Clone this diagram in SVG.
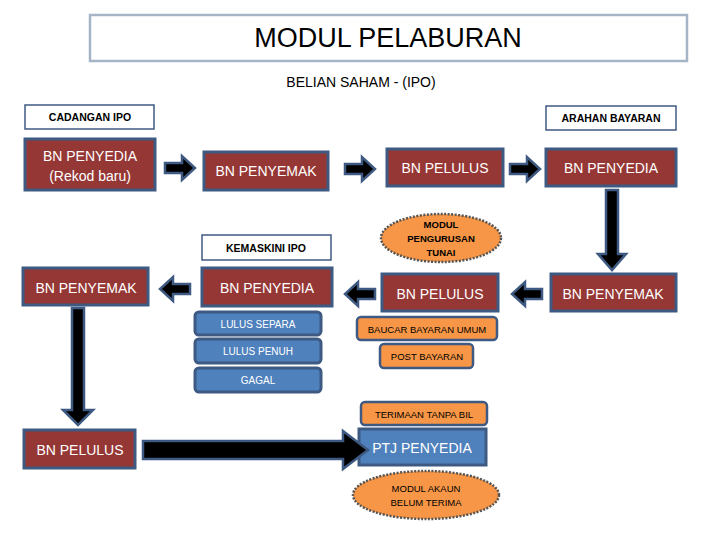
<svg xmlns="http://www.w3.org/2000/svg" width="720" height="540" viewBox="0 0 720 540">
<style>
text{font-family:"Liberation Sans",Arial,sans-serif;text-anchor:middle;dominant-baseline:central}
.red{fill:#953735;stroke:#3f5a82;stroke-width:3}
.rt{fill:#fff;font-size:14px}
.lbl{fill:#fff;stroke:#3f5a82;stroke-width:1.5}
.lt{fill:#000;font-size:10.5px;font-weight:bold}
.blue{fill:#4f81bd;stroke:#3f5a82;stroke-width:3}
.bt{fill:#fff;font-size:10px}
.or{fill:#f79646;stroke:#3f5a82;stroke-width:2.5}
.ot{fill:#000;font-size:9.5px}
.ell{fill:#f79646;stroke:#555;stroke-width:2.5;stroke-dasharray:2 1.5}
.arr{fill:#000;stroke:#3f5a82;stroke-width:2.5}
</style>
<rect x="90" y="15" width="597" height="46" fill="#fff" stroke="#a6b4c8" stroke-width="2.5"/>
<text x="388" y="38" font-size="27">MODUL PELABURAN</text>
<text x="361" y="82" font-size="14">BELIAN SAHAM - (IPO)</text>
<g id="n-cadangan"><rect class="lbl" x="25" y="105" width="129" height="24"/><text class="lt" x="90" y="117">CADANGAN IPO</text></g>
<g id="n-arahan"><rect class="lbl" x="546" y="106" width="130" height="24"/><text class="lt" x="611" y="118">ARAHAN BAYARAN</text></g>
<g id="n-penyedia1"><rect class="red" x="25" y="139" width="130" height="51"/><text class="rt" x="90" y="156">BN PENYEDIA</text><text class="rt" x="90" y="176">(Rekod baru)</text></g>
<g id="n-penyemak1"><rect class="red" x="204" y="152" width="124" height="38"/><text class="rt" x="266" y="171">BN PENYEMAK</text></g>
<g id="n-pelulus1"><rect class="red" x="387" y="149" width="116" height="37"/><text class="rt" x="445" y="168">BN PELULUS</text></g>
<g id="n-penyedia2"><rect class="red" x="546" y="149" width="130" height="37"/><text class="rt" x="611" y="168">BN PENYEDIA</text></g>
<g id="n-kemaskini"><rect class="lbl" x="202" y="235" width="129" height="25"/><text class="lt" x="266" y="248">KEMASKINI IPO</text></g>
<g id="n-tunai"><ellipse class="ell" cx="441" cy="238" rx="60" ry="24"/><text class="ot" font-weight="bold" x="441" y="224">MODUL</text><text class="ot" font-weight="bold" x="441" y="238">PENGURUSAN</text><text class="ot" font-weight="bold" x="441" y="252">TUNAI</text></g>
<g id="n-penyemak2"><rect class="red" x="23" y="268" width="125" height="37"/><text class="rt" x="86" y="288">BN PENYEMAK</text></g>
<g id="n-penyedia3"><rect class="red" x="202" y="268" width="130" height="38"/><text class="rt" x="267" y="288">BN PENYEDIA</text></g>
<g id="n-pelulus2"><rect class="red" x="382" y="274" width="116" height="37"/><text class="rt" x="440" y="294">BN PELULUS</text></g>
<g id="n-penyemak3"><rect class="red" x="551" y="274" width="125" height="37"/><text class="rt" x="613" y="294">BN PENYEMAK</text></g>
<g id="n-separa"><rect class="blue" x="195" y="312" width="126" height="23" rx="4"/><text class="bt" x="258" y="324">LULUS SEPARA</text></g>
<g id="n-penuh"><rect class="blue" x="195" y="339" width="126" height="24" rx="4"/><text class="bt" x="258" y="351">LULUS PENUH</text></g>
<g id="n-gagal"><rect class="blue" x="195" y="368" width="126" height="24" rx="4"/><text class="bt" x="258" y="380">GAGAL</text></g>
<g id="n-baucar"><rect class="or" x="357" y="317" width="140" height="23" rx="4"/><text class="ot" x="427" y="329">BAUCAR BAYARAN UMUM</text></g>
<g id="n-post"><rect class="or" x="380" y="344" width="93" height="24" rx="4"/><text class="ot" x="427" y="356">POST BAYARAN</text></g>
<g id="n-terimaan"><rect class="or" x="361" y="402" width="126" height="23" rx="4"/><text class="ot" x="424" y="414">TERIMAAN TANPA BIL</text></g>
<g id="n-ptj"><rect class="blue" x="359" y="429" width="127" height="36"/><text class="rt" x="422" y="448">PTJ PENYEDIA</text></g>
<g id="n-akaun"><ellipse class="ell" cx="426" cy="495" rx="73" ry="24"/><text class="ot" x="426" y="488">MODUL AKAUN</text><text class="ot" x="426" y="502">BELUM TERIMA</text></g>
<g id="n-pelulus3"><rect class="red" x="24" y="430" width="111" height="38"/><text class="rt" x="80" y="450">BN PELULUS</text></g>
<g id="connectors">
<path class="arr" d="M165,163 H182 V156 L195,168 L182,180 V173 H165 Z"/>
<path class="arr" d="M345,164 H362 V157 L375,169 L362,181 V174 H345 Z"/>
<path class="arr" d="M510,164 H527 V157 L540,169 L527,181 V174 H510 Z"/>
<path class="arr" d="M606,190 V254 H598 L612,270 L626,254 H618 V190 Z"/>
<path class="arr" d="M542,289 H525 V282 L512,294 L525,306 V299 H542 Z"/>
<path class="arr" d="M375,289 H358 V282 L345,294 L358,306 V299 H375 Z"/>
<path class="arr" d="M190,284 H173 V277 L160,289 L173,301 V294 H190 Z"/>
<path class="arr" d="M72,308 V410 H63 L78,425 L93,410 H84 V308 Z"/>
<path class="arr" d="M143,441 H343 V431 L368,450 L343,469 V459 H143 Z"/>
</g>
</svg>
